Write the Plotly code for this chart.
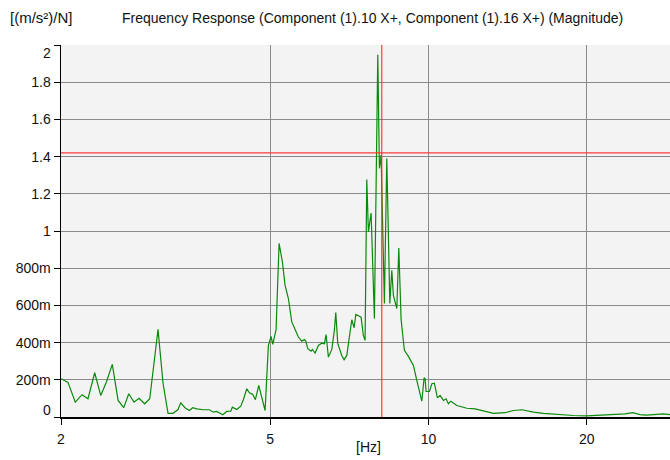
import math
import plotly.graph_objects as go

# Frequency response magnitude
freq_hz = [2.000, 2.062, 2.129, 2.193, 2.251, 2.318, 2.380, 2.439, 2.504, 2.568,
           2.632, 2.691, 2.754, 2.815, 2.886, 2.950, 3.059, 3.127, 3.196, 3.267,
           3.339, 3.379, 3.443, 3.509, 3.562, 3.625, 3.731, 3.830, 3.898, 3.956,
           4.062, 4.133, 4.207, 4.236, 4.319, 4.395, 4.445, 4.512, 4.564, 4.632,
           4.685, 4.755, 4.889, 4.960, 5.019, 5.056, 5.130, 5.198, 5.274, 5.336,
           5.414, 5.495, 5.558, 5.656, 5.741, 5.807, 5.843, 5.894, 5.980, 6.014,
           6.086, 6.174, 6.267, 6.339, 6.386, 6.451, 6.547, 6.622, 6.663, 6.722,
           6.840, 6.910, 6.992, 7.094, 7.147, 7.220, 7.274, 7.444, 7.487, 7.518,
           7.576, 7.632, 7.686, 7.778, 7.891, 8.009, 8.066, 8.126, 8.244, 8.331,
           8.442, 8.516, 8.576, 8.705, 8.781, 8.870, 8.921, 8.999, 9.158, 9.296,
           9.361, 9.501, 9.712, 9.810, 9.853, 9.897, 10.04, 10.15, 10.26, 10.40,
           10.52, 10.68, 10.80, 10.91, 11.03, 11.32, 11.57, 11.83, 12.27, 12.63,
           13.29, 13.99, 14.51, 15.05, 15.84, 16.54, 17.16, 17.67, 18.33, 18.87,
           20.00, 21.83, 22.81, 23.65, 24.46, 25.26, 26.01, 27.18, 27.97, 28.81]
magnitude = [0.206, 0.186, 0.080, 0.120, 0.098, 0.238, 0.116, 0.187, 0.283, 0.089,
             0.050, 0.125, 0.080, 0.101, 0.071, 0.098, 0.471, 0.180, 0.020, 0.020,
             0.040, 0.076, 0.050, 0.035, 0.050, 0.044, 0.039, 0.039, 0.026, 0.030,
             0.012, 0.030, 0.031, 0.053, 0.040, 0.058, 0.093, 0.152, 0.130, 0.121,
             0.093, 0.170, 0.035, 0.385, 0.433, 0.390, 0.470, 0.933, 0.834, 0.708,
             0.637, 0.511, 0.480, 0.430, 0.408, 0.416, 0.408, 0.367, 0.354, 0.363,
             0.344, 0.385, 0.397, 0.394, 0.443, 0.322, 0.362, 0.466, 0.561, 0.394,
             0.331, 0.308, 0.331, 0.466, 0.523, 0.480, 0.552, 0.537, 0.484, 0.439,
             0.412, 1.277, 0.995, 1.097, 0.529, 1.947, 1.337, 1.408, 0.610, 1.390,
             0.610, 0.789, 0.654, 0.583, 0.909, 0.525, 0.457, 0.358, 0.326, 0.295,
             0.277, 0.197, 0.085, 0.211, 0.206, 0.137, 0.137, 0.179, 0.182, 0.103,
             0.116, 0.089, 0.098, 0.071, 0.085, 0.062, 0.053, 0.047, 0.044, 0.035,
             0.020, 0.023, 0.035, 0.039, 0.026, 0.020, 0.017, 0.013, 0.008, 0.008,
             0.006, 0.010, 0.013, 0.017, 0.023, 0.013, 0.010, 0.013, 0.017, 0.013]

cursor_x = 8.15
cursor_y = 1.42

x_range = [2.0, 28.8]
y_range = [0.0, 2.0]

x_tickvals = [2, 5, 10, 20]
x_ticktext = ["2", "5", "10", "20"]
y_tickvals = [0, 0.2, 0.4, 0.6, 0.8, 1.0, 1.2, 1.4, 1.6, 1.8, 2.0]
y_ticktext = ["0", "200m", "400m", "600m", "800m", "1", "1.2", "1.4", "1.6", "1.8", "2"]

FONT = "Liberation Sans, Arial, sans-serif"
FS = 14
TXT = "#111111"
GRID = "#8a8a8a"

fig = go.Figure()
fig.add_trace(go.Scatter(x=freq_hz, y=magnitude, mode="lines",
                         line=dict(color="#0a8a0a", width=1.2),
                         hoverinfo="skip", showlegend=False))
fig.add_trace(go.Scatter(x=[cursor_x, cursor_x], y=y_range, mode="lines",
                         line=dict(color="rgba(255,40,40,0.9)", width=1.2),
                         hoverinfo="skip", showlegend=False))
fig.add_trace(go.Scatter(x=x_range, y=[cursor_y, cursor_y], mode="lines",
                         line=dict(color="rgba(255,40,40,0.9)", width=1.2),
                         hoverinfo="skip", showlegend=False))

# middle tick labels shown on axis; end labels placed as annotations (nudged inward)
mid_text = [t if 0 < i < len(y_ticktext) - 1 else "" for i, t in enumerate(y_ticktext)]

annotations = [
    dict(text="[(m/s²)/N]", xref="paper", yref="paper", x=-0.087, y=1.073,
         xanchor="left", yanchor="middle", showarrow=False,
         font=dict(family=FONT, size=FS + 1, color=TXT)),
    dict(text="Frequency Response (Component (1).10 X+, Component (1).16 X+) (Magnitude)",
         xref="paper", yref="paper", x=0.511, y=1.073, xanchor="center", yanchor="middle",
         showarrow=False, font=dict(family=FONT, size=FS, color=TXT)),
    dict(text="[Hz]", xref="paper", yref="paper", x=0.5057, y=-0.081,
         xanchor="center", yanchor="middle", showarrow=False,
         font=dict(family=FONT, size=FS, color=TXT)),
    dict(text=y_ticktext[0], xref="paper", yref="y", x=0, y=y_tickvals[0],
         xanchor="right", yanchor="bottom", xshift=-8, yshift=-3, showarrow=False,
         font=dict(family=FONT, size=FS, color=TXT)),
    dict(text=y_ticktext[-1], xref="paper", yref="y", x=0, y=y_tickvals[-1],
         xanchor="right", yanchor="top", xshift=-8, yshift=2, showarrow=False,
         font=dict(family=FONT, size=FS, color=TXT)),
]

fig.update_layout(
    width=670, height=460,
    margin=dict(l=61, r=0, t=45, b=43),
    paper_bgcolor="white",
    plot_bgcolor="#f3f3f3",
    font=dict(family=FONT, size=FS, color=TXT),
    showlegend=False,
    hovermode=False,
    annotations=annotations,
    xaxis=dict(type="log", range=[math.log10(x_range[0]), math.log10(x_range[1])],
               tickvals=x_tickvals, ticktext=x_ticktext,
               showgrid=True, gridcolor=GRID, gridwidth=1,
               showline=True, linecolor="black", linewidth=1.5,
               ticks="outside", ticklen=6, tickcolor="black",
               ticklabelstandoff=3,
               zeroline=False, mirror=False),
    yaxis=dict(range=y_range, tickvals=y_tickvals, ticktext=mid_text,
               showgrid=True, gridcolor=GRID, gridwidth=1,
               showline=True, linecolor="black", linewidth=1.5,
               ticks="outside", ticklen=6, tickcolor="black",
               zeroline=False),
)

# remove the default page margin so the 670x460 figure fills the window exactly
fig.write_html("out.html",
               config={"displayModeBar": False, "staticPlot": True},
               post_script="document.body.style.margin='0';"
                           "document.body.style.overflow='hidden';")
